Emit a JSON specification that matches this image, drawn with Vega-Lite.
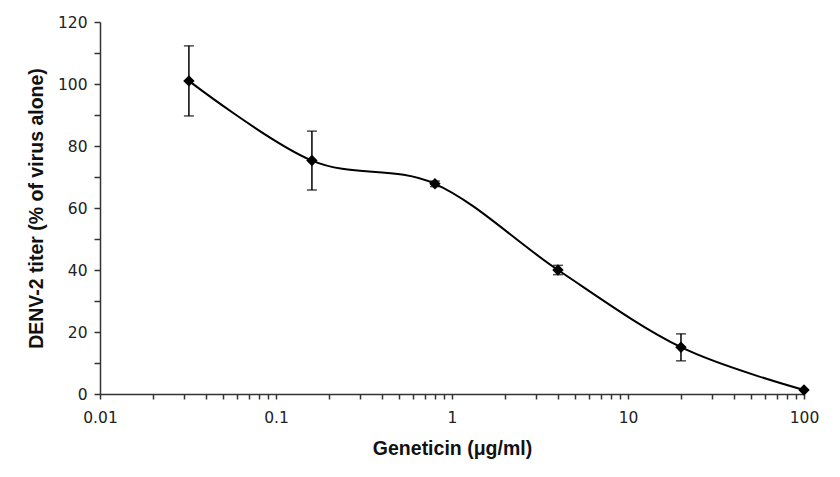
{
  "$schema": "https://vega.github.io/schema/vega-lite/v6.json",
  "autosize": {"type": "none"},
  "width": 704,
  "height": 372,
  "padding": {"left": 100, "top": 22, "right": 36, "bottom": 83},
  "background": "white",
  "config": {
    "view": {"stroke": null},
    "axis": {
      "grid": false,
      "domainColor": "#333",
      "domainWidth": 1.5,
      "tickColor": "#333",
      "tickWidth": 1.5,
      "tickSize": 6,
      "labelFont": "DejaVu Sans",
      "labelFontSize": 15.5,
      "labelColor": "#222",
      "titleFont": "Liberation Sans",
      "titleFontSize": 19.5,
      "titleFontWeight": "bold",
      "titleColor": "#111"
    }
  },
  "data": {
    "values": [
      {"conc": 0.032, "titer": 101, "lo": 89.7, "hi": 112.3},
      {"conc": 0.16, "titer": 75.3, "lo": 65.8, "hi": 84.8},
      {"conc": 0.8, "titer": 67.8, "lo": 66.9, "hi": 68.7},
      {"conc": 4, "titer": 40, "lo": 38.5, "hi": 41.5},
      {"conc": 20, "titer": 15.1, "lo": 10.7, "hi": 19.4},
      {"conc": 100, "titer": 1.3, "lo": 1.3, "hi": 1.3}
    ]
  },
  "encoding": {
    "x": {
      "field": "conc",
      "type": "quantitative",
      "scale": {"type": "log", "domain": [0.01, 100], "nice": false},
      "axis": {
        "title": "Geneticin (μg/ml)",
        "values": [0.01, 0.02, 0.03, 0.04, 0.05, 0.06, 0.07, 0.08, 0.09, 0.1, 0.2, 0.3, 0.4, 0.5, 0.6, 0.7, 0.8, 0.9, 1, 2, 3, 4, 5, 6, 7, 8, 9, 10, 20, 30, 40, 50, 60, 70, 80, 90, 100],
        "labelExpr": "abs(log(datum.value)/LN10 - round(log(datum.value)/LN10)) < 0.001 ? (datum.value >= 1 ? format(datum.value, 'd') : format(datum.value, '~g')) : ''",
        "tickSize": 5,
        "labelPadding": 11,
        "titlePadding": 14,
        "labelFlush": false,
        "labelOverlap": false
      }
    },
    "y": {
      "type": "quantitative",
      "scale": {"domain": [0, 120], "nice": false},
      "axis": {
        "title": "DENV-2 titer (% of virus alone)",
        "values": [0, 10, 20, 30, 40, 50, 60, 70, 80, 90, 100, 110, 120],
        "labelExpr": "datum.value % 20 == 0 ? datum.label : ''",
        "labelPadding": 7,
        "titleX": -54,
        "labelOverlap": false
      }
    }
  },
  "layer": [
    {
      "mark": {"type": "line", "interpolate": "cardinal", "color": "black", "strokeWidth": 2},
      "encoding": {"y": {"field": "titer", "type": "quantitative"}}
    },
    {
      "mark": {"type": "errorbar", "orient": "vertical", "ticks": {"size": 10, "color": "black", "thickness": 1.5}, "rule": {"color": "black", "strokeWidth": 1.5}},
      "encoding": {
        "y": {"field": "lo", "type": "quantitative"},
        "y2": {"field": "hi"}
      }
    },
    {
      "mark": {"type": "point", "shape": "diamond", "filled": true, "color": "black", "opacity": 1, "size": 130},
      "encoding": {"y": {"field": "titer", "type": "quantitative"}}
    }
  ]
}
